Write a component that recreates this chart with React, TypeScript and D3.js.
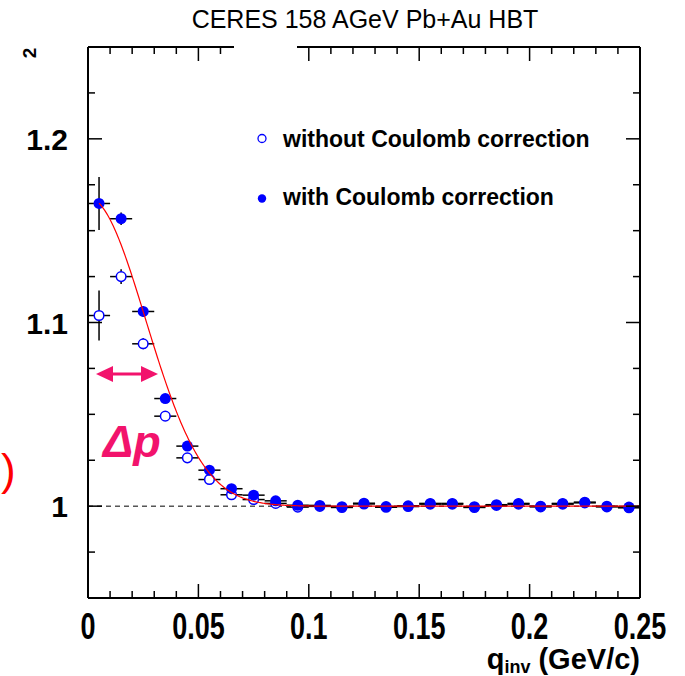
import React from 'react';
import * as d3 from 'd3';

// ---- data ----
const qBins = [0.005, 0.015, 0.025, 0.035, 0.045, 0.055, 0.065, 0.075, 0.085, 0.095, 0.105, 0.115, 0.125, 0.135, 0.145, 0.155, 0.165, 0.175, 0.185, 0.195, 0.205, 0.215, 0.225, 0.235, 0.245];
const withCoulomb = [1.1648, 1.1565, 1.1060, 1.0586, 1.0327, 1.0196, 1.0095, 1.0060, 1.0029, 1.0005, 1.0004, 0.9997, 1.0016, 0.9998, 1.0002, 1.0015, 1.0015, 0.9997, 1.0008, 1.0015, 1.0000, 1.0015, 1.0022, 1.0000, 0.9995];
const withCoulombErr = [0.0144, 0.0034, 0.0029, 0.0022, 0.0018, 0.0015, 0.0012, 0.0010, 0.0010, 0.0008, 0.0008, 0.0008, 0.0008, 0.0008, 0.0008, 0.0008, 0.0008, 0.0008, 0.0008, 0.0008, 0.0008, 0.0008, 0.0008, 0.0008, 0.0008];
const withoutCoulomb = [1.1038, 1.1250, 1.0884, 1.0490, 1.0263, 1.0145, 1.0062, 1.0036, 1.0015, 0.9995, 0.9999, 0.9993, 1.0012, 0.9994, 0.9998, 1.0011, 1.0011, 0.9993, 1.0004, 1.0011, 0.9996, 1.0011, 1.0018, 0.9996, 0.9991];
const withoutCoulombErr = [0.0136, 0.0040, 0.0030, 0.0022, 0.0018, 0.0015, 0.0012, 0.0010, 0.0010, 0.0008, 0.0008, 0.0008, 0.0008, 0.0008, 0.0008, 0.0008, 0.0008, 0.0008, 0.0008, 0.0008, 0.0008, 0.0008, 0.0008, 0.0008, 0.0008];
const binHalfWidth = 0.005;
const xTickLabels = ['0', '0.05', '0.1', '0.15', '0.2', '0.25'];
const xTickValues = [0, 0.05, 0.1, 0.15, 0.2, 0.25];
const yTickLabels = ['1', '1.1', '1.2'];
const yTickValues = [1.0, 1.1, 1.2];
const legendLabels = ['without Coulomb correction', 'with Coulomb correction'];
const titleText = 'CERES 158 AGeV Pb+Au HBT';
// Gaussian fit: C2 = 1 + lambda * exp(-R^2 q^2)
const fitLambda = 0.168;
const fitR2 = 737.5; // GeV^-2
const fitStart = 0.005;

const W = 685;
const H = 676;
const FONT = "'Liberation Sans', Arial, Helvetica, sans-serif";
const BLUE = '#0000ff';
const PINK = '#f2136c';

export default function App() {
  const x = d3.scaleLinear().domain([0, 0.25]).range([88, 640]);
  const y = d3.scaleLinear().domain([0.95, 1.25]).range([598, 47]);
  const [x0, x1] = x.range();
  const [y0, y1] = y.range();

  const minorX = d3.range(0, 26).map((i) => i * 0.01);
  const minorY = d3.range(0, 13).map((i) => 0.95 + i * 0.025);
  const gap = [234, 297];

  const fitPts = d3.range(0, 491).map((i) => fitStart + i * 0.0005).filter((q) => q <= 0.25);
  const fitLine = d3
    .line<number>()
    .x((q) => x(q))
    .y((q) => y(1 + fitLambda * Math.exp(-fitR2 * q * q)))
    .curve(d3.curveLinear);

  const rData = 5.5;

  const errBars = (vals: number[], errs: number[], key: string) =>
    qBins.map((q, i) => (
      <g key={key + i} stroke="#000" strokeWidth={1.5}>
        <line x1={x(q - binHalfWidth)} x2={x(q + binHalfWidth)} y1={y(vals[i])} y2={y(vals[i])} />
        <line x1={x(q)} x2={x(q)} y1={y(vals[i] - errs[i])} y2={y(vals[i] + errs[i])} />
      </g>
    ));

  return (
    <div style={{ position: 'absolute', left: 0, top: 0 }}>
      <svg width={W} height={H} viewBox={`0 0 ${W} ${H}`} style={{ display: 'block', background: '#fff' }}>
        <rect x={0} y={0} width={W} height={H} fill="#fff" />

        {/* title */}
        <text x={365} y={28} textAnchor="middle" fontFamily={FONT} fontSize={25} fill="#000">
          {titleText}
        </text>

        {/* fragments at the left edge */}
        <text transform="translate(36,53) rotate(-90)" fontFamily={FONT} fontSize={19} fontWeight="bold" textAnchor="middle" fill="#000">
          2
        </text>
        <text x={1} y={485} fontFamily={FONT} fontSize={44} fill="#ff0000">
          )
        </text>

        {/* dashed line at 1 */}
        <line x1={x0} x2={x1} y1={y(1)} y2={y(1)} stroke="#000" strokeWidth={1} strokeDasharray="5,4" />

        {/* error bars */}
        {errBars(withoutCoulomb, withoutCoulombErr, 'eo')}
        {errBars(withCoulomb, withCoulombErr, 'ef')}

        {/* open markers */}
        {qBins.map((q, i) => (
          <circle key={'o' + i} cx={x(q)} cy={y(withoutCoulomb[i])} r={rData - 0.7} fill="#fff" stroke={BLUE} strokeWidth={1.5} />
        ))}
        {/* filled markers */}
        {qBins.map((q, i) => (
          <circle key={'f' + i} cx={x(q)} cy={y(withCoulomb[i])} r={rData} fill={BLUE} />
        ))}

        {/* fit */}
        <path d={fitLine(fitPts) || ''} fill="none" stroke="#ff0000" strokeWidth={1.2} />

        {/* frame */}
        <g stroke="#000" strokeWidth={2} fill="none">
          <line x1={x0} x2={x0} y1={y1} y2={y0} />
          <line x1={x1} x2={x1} y1={y1} y2={y0} />
          <line x1={x0} x2={x1} y1={y0} y2={y0} />
          <line x1={x0} x2={gap[0]} y1={y1} y2={y1} />
          <line x1={gap[1]} x2={x1} y1={y1} y2={y1} />
        </g>

        {/* ticks */}
        <g stroke="#000" strokeWidth={1.5}>
          {minorX.map((v, i) => {
            const len = i % 5 === 0 ? 14 : 7;
            const px = x(v);
            return (
              <g key={'xt' + i}>
                <line x1={px} x2={px} y1={y0} y2={y0 - len} />
                {(px < gap[0] || px > gap[1]) && <line x1={px} x2={px} y1={y1} y2={y1 + len} />}
              </g>
            );
          })}
          {minorY.map((v, i) => {
            const major = yTickValues.some((t) => Math.abs(t - v) < 1e-6);
            const len = major ? 14 : 7;
            const py = y(v);
            return (
              <g key={'yt' + i}>
                <line x1={x0} x2={x0 + len} y1={py} y2={py} />
                <line x1={x1} x2={x1 - len} y1={py} y2={py} />
              </g>
            );
          })}
        </g>

        {/* y tick labels */}
        {yTickValues.map((v, i) => (
          <text key={'yl' + i} x={68} y={y(v) + 11} textAnchor="end" fontFamily={FONT} fontSize={30} fontWeight="bold" fill="#000">
            {yTickLabels[i]}
          </text>
        ))}

        {/* x tick labels */}
        {xTickValues.map((v, i) => (
          <text
            key={'xl' + i}
            transform={`translate(${x(v)},639) scale(0.75,1)`}
            textAnchor="middle"
            fontFamily={FONT}
            fontSize={36}
            fontWeight="bold"
            fill="#000"
          >
            {xTickLabels[i]}
          </text>
        ))}

        {/* x axis title */}
        <text x={x1} y={669} textAnchor="end" fontFamily={FONT} fontSize={29} fontWeight="bold" fill="#000">
          q<tspan fontSize={18} dy={4}>inv</tspan>
          <tspan dy={-4}> (GeV/c)</tspan>
        </text>

        {/* legend */}
        <circle cx={262} cy={138.5} r={4} fill="#fff" stroke={BLUE} strokeWidth={1.3} />
        <text x={283} y={147} fontFamily={FONT} fontSize={23} fontWeight="bold" fill="#000">
          {legendLabels[0]}
        </text>
        <circle cx={262} cy={198.5} r={4.2} fill={BLUE} />
        <text x={283} y={205} fontFamily={FONT} fontSize={23} fontWeight="bold" fill="#000">
          {legendLabels[1]}
        </text>

        {/* delta p annotation */}
        <line x1={100} x2={154} y1={374} y2={374} stroke={PINK} strokeWidth={3} />
        <path d="M96,374 L113,366 L113,382 Z" fill={PINK} />
        <path d="M158,374 L141,366 L141,382 Z" fill={PINK} />
        <text x={103} y={457} fontFamily={FONT} fontSize={45} fontWeight="bold" fontStyle="italic" fill={PINK}>
          Δp
        </text>
      </svg>
    </div>
  );
}
